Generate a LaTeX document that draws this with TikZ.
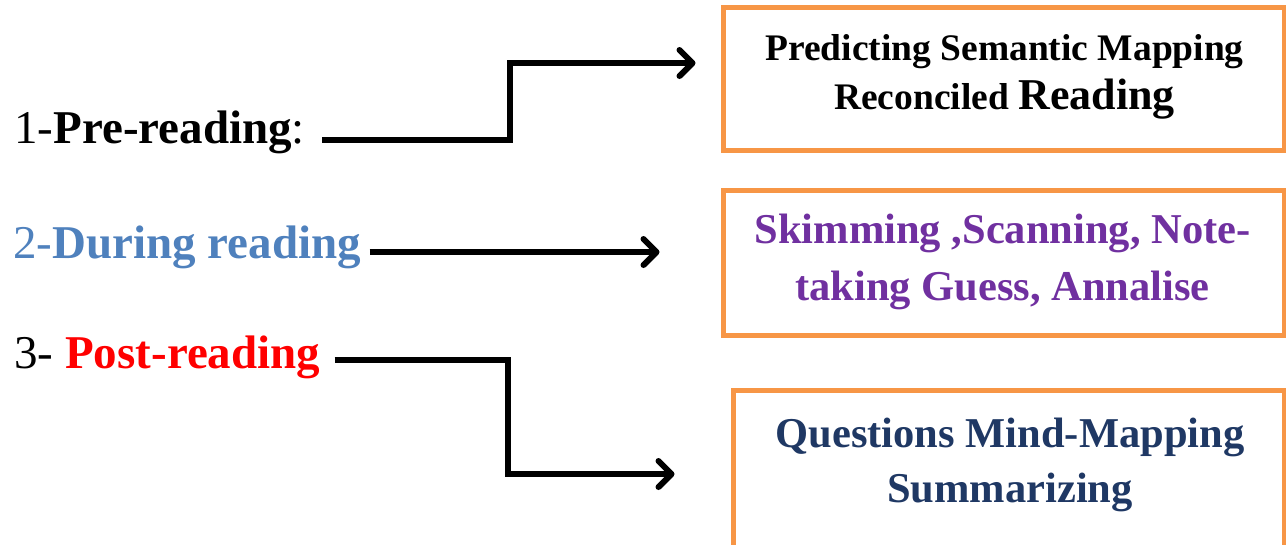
\documentclass[tikz,border=0pt]{standalone}
\usepackage{fontspec}
\setmainfont{Liberation Serif}
\usepackage{xcolor}
\usetikzlibrary{positioning,arrows.meta}
\definecolor{boxorange}{HTML}{F79646}
\definecolor{stepblue}{HTML}{4F81BD}
\definecolor{steppurple}{HTML}{7030A0}
\definecolor{stepnavy}{HTML}{1F3864}
\tikzset{every picture/.style={line width=0.75pt}}
\tikzset{
  stagebox/.style={draw=boxorange, line width=5pt, rectangle, inner sep=0pt},
  stagelabel/.style={anchor=base west, inner sep=0pt, font=\fontsize{47}{56}\selectfont},
  boxtext/.style={align=center, inner sep=0pt, font=\bfseries},
  flow/.style={line width=6pt, -{Straight Barb[length=13pt,width=26pt,round]}}
}

\begin{document}
\begin{tikzpicture}[x=1pt,y=-1pt]
\clip (0,0) rectangle (1286,544);
%
\node[stagelabel] (pre) at (14,143) {1-\textbf{Pre-reading}:};
\node[stagelabel, text=stepblue] (during) at (13,258) {2-\textbf{During reading}};
\node[stagelabel] (post) at (14,368) {3- \textcolor{red}{\textbf{Post-reading}}};
%
\node[stagebox, minimum width=561pt, minimum height=143pt] (predict) at (1003.5,78.5) {};
\node[stagebox, minimum width=561pt, minimum height=145pt] (skim) at (1003.5,262.5) {};
\node[stagebox, minimum width=551pt, minimum height=170pt] (quest) at (1008.5,475) {};
%
\node[boxtext, font=\bfseries\fontsize{37.5}{49}\selectfont] (predicttext) at (1004.5,76.5)
  {Predicting Semantic Mapping\\Reconciled {\fontsize{44}{49}\selectfont Reading}};
\node[boxtext, text=steppurple, font=\bfseries\fontsize{42.5}{57}\selectfont] (skimtext) at (1002.5,261.5)
  {Skimming ,Scanning, Note-\\taking Guess, Annalise};
\node[boxtext, text=stepnavy, font=\bfseries\fontsize{42.5}{55}\selectfont] (questtext) at (1010,464.5)
  {Questions Mind-Mapping\\Summarizing};
%
\draw[flow] ([xshift=17pt,yshift=3pt]pre.base east) -- ++(188,0)
  |- ([xshift=-25pt,yshift=15.5pt]predict.west);
\draw[flow] ([xshift=8pt,yshift=6pt]during.base east) -- ([xshift=-61pt,yshift=10.5pt]skim.west);
\draw[flow] ([xshift=14pt,yshift=8pt]post.base east) -- ++(173,0)
  |- ([xshift=-56pt,yshift=1pt]quest.west);
\end{tikzpicture}
\end{document}
